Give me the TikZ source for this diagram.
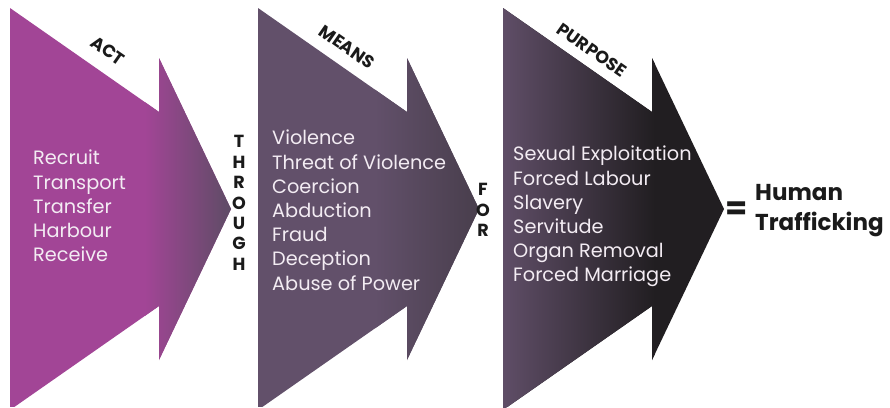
\documentclass[tikz,border=0pt]{standalone}
\usepackage{fontspec}
\newfontfamily\gothic{Poppins}
\definecolor{actpurple}{HTML}{A24596}
\definecolor{meansgray}{HTML}{62506A}
\definecolor{meansdark}{HTML}{483E4C}
\definecolor{darktip}{HTML}{211E21}
\definecolor{listtext}{HTML}{F3ECF3}
\definecolor{labeltext}{HTML}{1A1A1A}
\newcommand\chevron[1]{(#1,8) -- (#1+149,112) -- (#1+149,58) -- (#1+221,209) -- (#1+149,360) -- (#1+149,306) -- (#1,410) -- cycle}
\begin{document}
\begin{tikzpicture}[x=1pt,y=-1pt,
  listtxt/.style={font=\gothic\fontsize{19.3}{24.2}\selectfont, text=listtext, align=left, anchor=north west, inner sep=0pt},
  steplabel/.style={font=\gothic\bfseries\fontsize{17.5}{20}\selectfont, text=labeltext, rotate=-35, inner sep=0pt},
  vertword/.style={font=\gothic\bfseries\fontsize{17.5}{20.4}\selectfont, text=labeltext, align=center, inner sep=0pt},
  resulttxt/.style={font=\gothic\bfseries\fontsize{23}{30}\selectfont, text=labeltext, align=left, inner sep=0pt}]
\useasboundingbox (0,0) rectangle (890,407);
\fill[white] (0,0) rectangle (890,407);
\begin{scope}
\clip (0,0) rectangle (890,407);
% arrow 1: ACT
\begin{scope}
\clip \chevron{10};
\fill[actpurple] (0,0) rectangle (240,407);
\shade[left color=actpurple, right color=meansgray!95!black] (145,0) rectangle (232,407);
\end{scope}
% arrow 2: MEANS
\begin{scope}
\clip \chevron{258};
\fill[meansgray] (250,0) rectangle (490,407);
\shade[left color=meansgray, right color=meansdark] (375,0) rectangle (479,407);
\end{scope}
% arrow 3: PURPOSE
\begin{scope}
\clip \chevron{503};
\fill[darktip] (495,0) rectangle (730,407);
\shade[left color=meansgray!97!black, right color=darktip] (503,0) rectangle (655,407);
\end{scope}
\end{scope}
% step labels
\node[steplabel] (act) at (108,51) {ACT};
\node[steplabel] (means) at (347,47) {MEANS};
\node[steplabel] (purpose) at (592,50) {PURPOSE};
% lists
\node[listtxt] (actlist) at (33,150) {Recruit\\Transport\\Transfer\\Harbour\\Receive};
\node[listtxt] (meanslist) at (272,130) {Violence\\Threat of Violence\\Coercion\\Abduction\\Fraud\\Deception\\Abuse of Power};
\node[listtxt] (purposelist) at (513,146) {Sexual Exploitation\\Forced Labour\\Slavery\\Servitude\\Organ Removal\\Forced Marriage};
% connecting words
\node[vertword] (through) at (239,203) {T\\H\\R\\O\\U\\G\\H};
\node[vertword] (for) at (483,210) {F\\O\\R};
% result
\node[resulttxt, font=\gothic\bfseries\fontsize{32}{32}\selectfont, anchor=center] (equals) at (737,211) {=};
\node[resulttxt, anchor=north west] (result) at (755,184) {Human\\Trafficking};
\end{tikzpicture}
\end{document}
